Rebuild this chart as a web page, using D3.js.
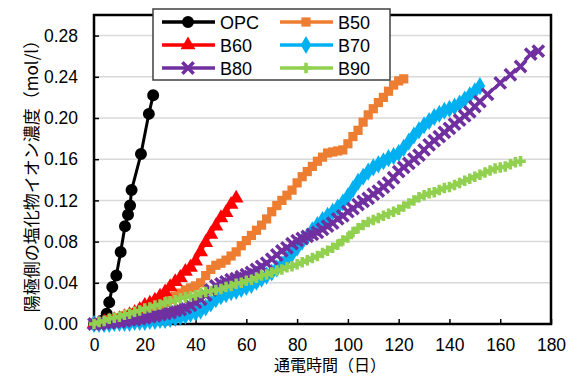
<!DOCTYPE html>
<html>
<head>
<meta charset="utf-8">
<script src="https://cdn.jsdelivr.net/npm/d3@7"></script>
<style>
  body { margin: 0; background: #fff; }
  svg text { font-family: "Liberation Sans", Arial, "Noto Sans CJK JP", sans-serif; }
  .jp { font-family: "Noto Sans CJK JP", sans-serif; }
</style>
</head>
<body>
<div id="container"></div>
<script>
// data: [days, mol/l]
const opc = [[0,0],[3,0.003],[5,0.010],[6,0.021],[7.2,0.036],[8.8,0.047],[10.5,0.070],[12.2,0.095],[13.4,0.106],[14.2,0.115],[14.8,0.130],[18.5,0.165],[21.6,0.204],[23.3,0.222]];
const b50 = [[0,0],[2,0.001],[4,0.002],[6,0.004],[8,0.005],[10,0.006],[12,0.008],[14,0.009],[16,0.011],[18,0.012],[20,0.014],[22,0.015],[24,0.017],[26,0.019],[28,0.021],[30,0.024],[32,0.027],[34,0.030],[36,0.033],[38,0.035],[40,0.037],[42,0.040],[44,0.047],[46,0.053],[48,0.057],[50,0.059],[52,0.062],[54,0.066],[56,0.070],[58,0.076],[60,0.081],[62,0.086],[64,0.091],[66,0.096],[68,0.102],[70,0.109],[72,0.115],[74,0.120],[76,0.125],[78,0.130],[80,0.137],[82,0.143],[84,0.148],[86,0.153],[88,0.158],[90,0.162],[92,0.166],[94,0.167],[96,0.168],[98,0.169],[100,0.175],[102,0.182],[104,0.188],[106,0.196],[108,0.203],[110,0.209],[112,0.215],[114,0.220],[116,0.226],[118,0.232],[120,0.236],[122,0.238]];
const b60 = [[0,0],[2,0.001],[4,0.002],[6,0.003],[8,0.004],[10,0.005],[12,0.007],[14,0.009],[16,0.011],[18,0.014],[20,0.018],[22,0.020],[24,0.023],[26,0.027],[28,0.031],[30,0.036],[32,0.041],[34,0.045],[36,0.051],[38,0.055],[40,0.061],[42,0.070],[44,0.079],[46,0.087],[48,0.095],[50,0.103],[52,0.108],[54,0.116],[56,0.122]];
const b70 = [[0,0],[2,0],[4,0],[6,0],[8,0.001],[10,0.001],[12,0.001],[14,0.001],[16,0.002],[18,0.002],[20,0.002],[22,0.003],[24,0.003],[26,0.004],[28,0.004],[30,0.005],[32,0.006],[34,0.007],[36,0.008],[38,0.010],[40,0.011],[42,0.013],[44,0.016],[46,0.020],[48,0.024],[50,0.027],[52,0.029],[54,0.031],[56,0.032],[58,0.034],[60,0.036],[62,0.038],[64,0.041],[66,0.044],[68,0.047],[70,0.050],[72,0.054],[74,0.058],[76,0.063],[78,0.068],[80,0.074],[82,0.080],[84,0.085],[86,0.091],[88,0.096],[90,0.101],[92,0.105],[94,0.109],[96,0.113],[98,0.118],[100,0.124],[102,0.131],[104,0.138],[106,0.143],[108,0.148],[110,0.152],[112,0.155],[114,0.158],[116,0.161],[118,0.163],[120,0.166],[122,0.171],[124,0.177],[126,0.183],[128,0.188],[130,0.193],[132,0.197],[134,0.201],[136,0.204],[138,0.207],[140,0.209],[142,0.211],[144,0.214],[146,0.218],[148,0.222],[150,0.226],[152,0.231]];
const b80 = [[0,0],[2,0],[4,0.001],[6,0.001],[8,0.002],[10,0.002],[12,0.003],[14,0.004],[16,0.004],[18,0.005],[20,0.006],[22,0.007],[24,0.008],[26,0.009],[28,0.010],[30,0.011],[32,0.013],[34,0.014],[36,0.016],[38,0.018],[40,0.021],[42,0.024],[44,0.028],[46,0.033],[48,0.037],[50,0.039],[52,0.041],[54,0.043],[56,0.044],[58,0.046],[60,0.048],[62,0.050],[64,0.053],[66,0.056],[68,0.059],[70,0.063],[72,0.067],[74,0.071],[76,0.074],[78,0.078],[80,0.081],[82,0.083],[84,0.085],[86,0.087],[88,0.089],[90,0.092],[92,0.095],[94,0.098],[96,0.102],[98,0.105],[100,0.109],[102,0.112],[104,0.116],[106,0.119],[108,0.122],[110,0.126],[112,0.129],[114,0.133],[116,0.137],[118,0.142],[120,0.148],[122,0.152],[124,0.156],[126,0.160],[128,0.164],[130,0.169],[132,0.174],[134,0.178],[136,0.182],[138,0.186],[140,0.190],[142,0.194],[144,0.198],[146,0.202],[148,0.206],[150,0.211],[152,0.216],[155,0.223],[160,0.234],[164,0.242],[168,0.250],[172,0.262],[175,0.265]];
const b90 = [[0,0],[2,0.002],[4,0.003],[6,0.005],[8,0.006],[10,0.007],[12,0.009],[14,0.010],[16,0.012],[18,0.013],[20,0.015],[22,0.016],[24,0.018],[26,0.019],[28,0.021],[30,0.022],[32,0.023],[34,0.025],[36,0.026],[38,0.027],[40,0.028],[42,0.030],[44,0.031],[46,0.032],[48,0.033],[50,0.034],[52,0.036],[54,0.037],[56,0.039],[58,0.040],[60,0.042],[62,0.043],[64,0.045],[66,0.047],[68,0.048],[70,0.050],[72,0.052],[74,0.053],[76,0.055],[78,0.056],[80,0.058],[82,0.060],[84,0.062],[86,0.064],[88,0.066],[90,0.069],[92,0.071],[94,0.074],[96,0.077],[98,0.081],[100,0.084],[102,0.089],[104,0.093],[106,0.096],[108,0.099],[110,0.101],[112,0.103],[114,0.105],[116,0.107],[118,0.109],[120,0.111],[122,0.114],[124,0.117],[126,0.120],[128,0.123],[130,0.125],[132,0.127],[134,0.128],[136,0.130],[138,0.132],[140,0.133],[142,0.135],[144,0.137],[146,0.139],[148,0.141],[150,0.143],[152,0.145],[154,0.147],[156,0.149],[158,0.151],[160,0.152],[162,0.153],[164,0.155],[166,0.157],[168,0.158]];

const seriesNames = ["OPC","B50","B60","B70","B80","B90"];
const seriesData = [opc,b50,b60,b70,b80,b90];
const xTicks = [0,20,40,60,80,100,120,140,160,180];
const yTicks = [0,0.04,0.08,0.12,0.16,0.20,0.24,0.28];
const xTitle = "通電時間（日）";
const yTitle = "陽極側の塩化物イオン濃度（mol/l）";

const colors = ["#000000","#ED7D31","#FF0000","#00B0F0","#7030A0","#92D050"];
const symbols = [d3.symbolCircle,d3.symbolSquare,d3.symbolTriangle,d3.symbolDiamond,d3.symbolTimes,d3.symbolPlus];
const symSize = [113,85,95,95,85,38];
const stroked = [false,false,false,false,true,true];

const width = 578, height = 376;
const mLeft = 94, mRight = 551, mTop = 15, mBottom = 324;

const svg = d3.select("#container")
  .append("svg")
    .attr("width",width)
    .attr("height",height);

const x = d3.scaleLinear().domain([0,180]).range([mLeft,mRight]);
const y = d3.scaleLinear().domain([0,0.30]).range([mBottom,mTop]);

// gridlines
svg.append("g")
    .attr("stroke","#d9d9d9")
    .attr("stroke-width",1.5)
  .selectAll("line")
    .data(yTicks.slice(1))
    .join("line")
      .attr("x1",mLeft).attr("x2",mRight)
      .attr("y1",d=>y(d)).attr("y2",d=>y(d));

// axes, ticks inside
const xAxis = svg.append("g")
    .attr("transform","translate(0,"+mBottom+")")
    .call(d3.axisBottom(x).tickValues(xTicks).tickFormat(d3.format("d")).tickSizeInner(-5).tickSizeOuter(0).tickPadding(15));
const yAxis = svg.append("g")
    .attr("transform","translate("+mLeft+",0)")
    .call(d3.axisLeft(y).tickValues(yTicks).tickFormat(d3.format(".2f")).tickSizeInner(-5).tickSizeOuter(0).tickPadding(16));
[xAxis,yAxis].forEach(g=>{
  g.select(".domain").remove();
  g.selectAll(".tick line").attr("stroke","#000").attr("stroke-width",1.5);
  g.selectAll(".tick text").attr("fill","#000").style("font-size","17.5px").style("font-family","'Liberation Sans', Arial, sans-serif");
});

// plot frame
svg.append("rect")
    .attr("x",mLeft).attr("y",mTop)
    .attr("width",mRight-mLeft).attr("height",mBottom-mTop)
    .attr("fill","none")
    .attr("stroke","#000")
    .attr("stroke-width",2.5);

// series
const line = d3.line().x(d=>x(d[0])).y(d=>y(d[1]));
seriesData.forEach((data,i)=>{
  const g = svg.append("g");
  g.append("path")
      .datum(data)
      .attr("fill","none")
      .attr("stroke",colors[i])
      .attr("stroke-width",3)
      .attr("stroke-linejoin","round")
      .attr("d",line);
  g.selectAll("path.mk")
    .data(data)
    .join("path")
      .attr("class","mk")
      .attr("transform",d=>"translate("+x(d[0])+","+y(d[1])+")")
      .attr("d",d3.symbol().type(symbols[i]).size(symSize[i]))
      .attr("fill",stroked[i]?"none":colors[i])
      .attr("stroke",stroked[i]?colors[i]:"none")
      .attr("stroke-width",stroked[i]?3.5:0);
});

// legend
const legend = svg.append("g");
legend.append("rect")
    .attr("x",153).attr("y",9)
    .attr("width",237).attr("height",71)
    .attr("fill","#fff")
    .attr("stroke","#404040")
    .attr("stroke-width",1.5);
const legendOrder = [0,1,2,3,4,5];
legendOrder.forEach((si,k)=>{
  const col = k%2, row = Math.floor(k/2);
  const lx = col===0?162:280, ly = 22+row*23;
  const item = legend.append("g");
  item.append("line")
      .attr("x1",lx).attr("x2",lx+53)
      .attr("y1",ly).attr("y2",ly)
      .attr("stroke",colors[si])
      .attr("stroke-width",3.5);
  item.append("path")
      .attr("transform","translate("+(lx+26)+","+ly+")")
      .attr("d",d3.symbol().type(symbols[si]).size(symSize[si]))
      .attr("fill",stroked[si]?"none":colors[si])
      .attr("stroke",stroked[si]?colors[si]:"none")
      .attr("stroke-width",stroked[si]?3.5:0);
  item.append("text")
      .attr("x",lx+58).attr("y",ly+6.5)
      .style("font-size","18px")
      .text(seriesNames[si]);
});

// axis titles
svg.append("text")
    .attr("class","jp")
    .attr("x",330).attr("y",371)
    .attr("text-anchor","middle")
    .style("font-size","16px")
    .text(xTitle);
svg.append("text")
    .attr("class","jp")
    .attr("transform","translate(38,172) rotate(-90)")
    .attr("text-anchor","middle")
    .style("font-size","17px")
    .text(yTitle);
</script>
</body>
</html>
